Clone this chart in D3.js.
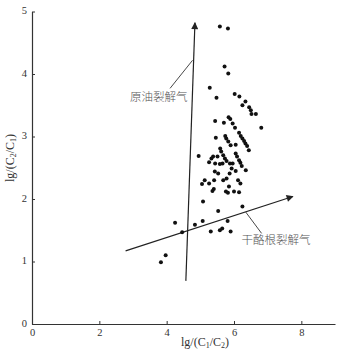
<!DOCTYPE html>
<html>
<head>
<meta charset="utf-8">
<script src="https://cdn.jsdelivr.net/npm/d3@7/dist/d3.min.js"></script>
<style>
  html, body { margin: 0; padding: 0; background: #fff; }
  svg { display: block; }
</style>
</head>
<body>
<svg id="chart" width="345" height="352"></svg>
<script>
// lg(C1/C2) values of the samples
const sampleX = [
  5.58, 5.82, 5.72, 5.83, 5.28, 5.48, 6.02, 6.16, 6.34, 6.25,
  6.45, 6.50, 6.52, 6.65, 6.81, 5.44, 5.70, 5.84, 5.89, 5.96,
  6.03, 6.15, 6.20, 6.25, 6.30, 6.34, 6.39, 6.44, 5.74, 5.77,
  5.83, 5.90, 5.46, 6.05, 5.59, 4.95, 5.38, 5.51, 5.62, 5.68,
  5.73, 5.78, 5.26, 5.44, 5.58, 5.66, 5.88, 5.96, 6.05, 6.09,
  6.15, 6.19, 6.23, 6.35, 5.43, 5.53, 5.87, 6.05, 5.68, 5.41,
  5.26, 5.05, 6.12, 6.19, 5.40, 5.36, 5.85, 5.76, 5.82, 6.00,
  6.15, 5.08, 5.53, 6.25, 4.25, 4.84, 5.07, 5.81, 4.46, 5.31,
  5.58, 5.65, 5.90, 3.97, 3.83, 5.33, 5.93, 5.13, 5.78
];
// lg(C2/C1) values of the same samples
const sampleY = [
  4.76, 4.73, 4.12, 4.01, 3.78, 3.62, 3.68, 3.64, 3.56, 3.50,
  3.47, 3.42, 3.36, 3.36, 3.14, 3.25, 3.22, 3.31, 3.28, 3.21,
  3.14, 3.06, 3.01, 2.97, 2.93, 2.89, 2.85, 2.78, 3.01, 2.97,
  2.92, 2.86, 2.98, 2.87, 2.81, 2.69, 2.68, 2.68, 2.76, 2.70,
  2.65, 2.61, 2.59, 2.57, 2.56, 2.57, 2.57, 2.57, 2.73, 2.68,
  2.62, 2.58, 2.53, 2.46, 2.44, 2.41, 2.41, 2.45, 2.30, 2.30,
  2.25, 2.24, 2.30, 2.25, 2.16, 2.13, 2.20, 2.12, 2.10, 2.12,
  2.11, 1.96, 1.81, 1.88, 1.62, 1.59, 1.65, 1.65, 1.47, 1.48,
  1.50, 1.53, 1.48, 1.10, 0.99, 2.65, 2.49, 2.30, 2.33
];

const xTicks = [0, 2, 4, 6, 8];
const yTicks = [0, 1, 2, 3, 4, 5];

// Trend arrows: [x0, y0, x1, y1] in data units
const oilArrow = [4.57, 0.69, 4.84, 4.82];
const kerogenArrow = [2.78, 1.17, 7.75, 2.04];

// Annotation leaders: [x on arrow, y on arrow, x at label, y at label]
const oilLeader = [4.77, 4.22, 4.10, 3.77];
const kerogenLeader = [6.35, 1.79, 6.82, 1.45];
const oilLabel = "原油裂解气";
const kerogenLabel = "干酪根裂解气";

const svg = d3.select("#chart");
const x = d3.scaleLinear().domain([0, 9]).range([32, 335]);
const y = d3.scaleLinear().domain([0, 5]).range([324, 11.5]);

const axisColor = "#333";
const serif = "'Liberation Serif', 'Times New Roman', serif";

// Axes
const xAxis = svg.append("g")
  .attr("transform", `translate(0,${y(0)})`)
  .call(d3.axisBottom(x).tickValues(xTicks).tickSizeInner(-3).tickSizeOuter(0).tickPadding(6).tickFormat(d3.format("d")));
const yAxis = svg.append("g")
  .attr("transform", `translate(${x(0)},0)`)
  .call(d3.axisLeft(y).tickValues(yTicks).tickSizeInner(-3).tickSizeOuter(0).tickPadding(5).tickFormat(d3.format("d")));

[xAxis, yAxis].forEach(g => {
  g.select(".domain").attr("stroke", axisColor).attr("stroke-width", 1.2);
  g.selectAll(".tick line").attr("stroke", axisColor).attr("stroke-width", 1);
  g.selectAll(".tick text").attr("fill", "#333").style("font-family", serif).style("font-size", "10.5px");
});
xAxis.selectAll(".tick text").attr("dy", "0.55em");
yAxis.selectAll(".tick text").attr("dy", "0.2em");

// Axis titles with subscripts
function title(sel, a, b) {
  sel.style("font-family", serif).style("font-size", "12px").attr("fill", "#333");
  sel.append("tspan").text("lg/(C");
  sel.append("tspan").text(a).attr("font-size", "8px").attr("dy", 2);
  sel.append("tspan").text("/C").attr("dy", -2);
  sel.append("tspan").text(b).attr("font-size", "8px").attr("dy", 2);
  sel.append("tspan").text(")").attr("dy", -2);
}
svg.append("text")
  .attr("x", 205).attr("y", 346).attr("text-anchor", "middle")
  .call(title, "1", "2");
svg.append("text")
  .attr("transform", "translate(14,158) rotate(-90)").attr("text-anchor", "middle")
  .call(title, "2", "1");

// Arrowhead marker
svg.append("defs").append("marker")
  .attr("id", "head").attr("viewBox", "0 0 10 10")
  .attr("refX", 9).attr("refY", 5)
  .attr("markerWidth", 10).attr("markerHeight", 7)
  .attr("markerUnits", "userSpaceOnUse")
  .attr("orient", "auto")
  .append("path").attr("d", "M0,0 L10,5 L0,10 Z").attr("fill", "#222");

[oilArrow, kerogenArrow].forEach(a => {
  svg.append("line")
    .attr("x1", x(a[0])).attr("y1", y(a[1]))
    .attr("x2", x(a[2])).attr("y2", y(a[3]))
    .attr("stroke", "#222").attr("stroke-width", 1.2)
    .attr("marker-end", "url(#head)");
});

[oilLeader, kerogenLeader].forEach(a => {
  svg.append("line")
    .attr("x1", x(a[0])).attr("y1", y(a[1]))
    .attr("x2", x(a[2])).attr("y2", y(a[3]))
    .attr("stroke", "#333").attr("stroke-width", 0.9);
});

const cjk = "'Noto Sans CJK SC', 'Noto Sans CJK JP', sans-serif";
svg.append("text")
  .attr("x", x(oilLeader[2]) - 40).attr("y", y(oilLeader[3]) + 13)
  .attr("text-anchor", "start")
  .style("font-family", cjk).style("font-size", "11.5px").style("font-weight", 300).attr("fill", "#555")
  .text(oilLabel);
svg.append("text")
  .attr("x", x(kerogenLeader[2]) - 20).attr("y", y(kerogenLeader[3]) + 11)
  .attr("text-anchor", "start")
  .style("font-family", cjk).style("font-size", "11.5px").style("font-weight", 300).attr("fill", "#555")
  .text(kerogenLabel);

// Sample points
svg.append("g").selectAll("circle")
  .data(sampleX.map((v, i) => [v, sampleY[i]]))
  .join("circle")
  .attr("cx", d => x(d[0])).attr("cy", d => y(d[1]))
  .attr("r", 2).attr("fill", "#111");
</script>
</body>
</html>
